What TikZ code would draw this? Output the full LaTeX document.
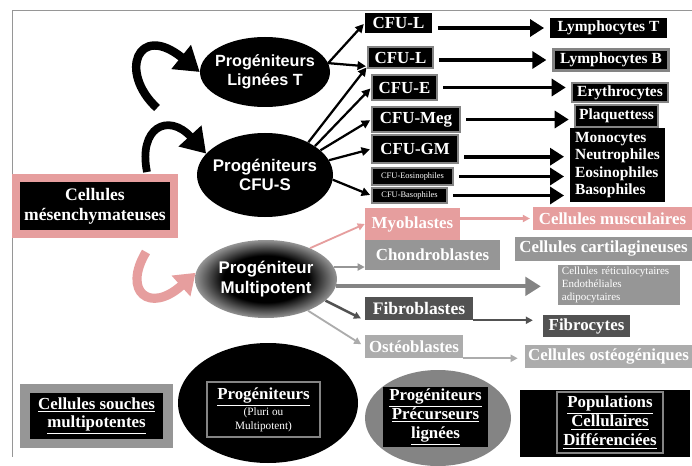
\documentclass[tikz,border=0pt]{standalone}
\usepackage{fontspec}
\setmainfont{Liberation Serif}
\setsansfont{Liberation Sans}
\usetikzlibrary{shapes.geometric,arrows.meta}

\definecolor{rose}{RGB}{230,158,158}
\definecolor{greymid}{RGB}{150,150,150}
\definecolor{greylight}{RGB}{172,172,172}
\definecolor{greydark}{RGB}{82,82,82}
\definecolor{greyrim}{RGB}{132,132,132}
\colorlet{mpedge}{black!42}

\pgfdeclareradialshading{mpball}{\pgfpoint{0bp}{0bp}}{color(0bp)=(black); color(15bp)=(black); color(25bp)=(mpedge); color(50bp)=(mpedge)}

\newcommand\fsz[2]{\fontsize{#1}{#2}\selectfont}

\tikzset{
  sz/.style 2 args={minimum width=#1*0.025cm, minimum height=#2*0.025cm},
  box/.style={rectangle, fill=black, text=white, inner sep=1pt, font=\bfseries\fsz{12}{13}},
  rim/.style={draw=greyrim, line width=0.9pt},
  blob/.style={ellipse, fill=black, inner sep=0pt},
  blobtxt/.style={text=white, align=center, inner sep=0pt, font=\sffamily\bfseries\fsz{12}{14}},
  link/.style={line width=1.6pt, -{Triangle[length=6pt,width=6pt]}, shorten >=1pt},
  fat/.style={line width=2.8pt, -{Triangle[length=10pt,width=12pt]}, shorten <=4pt, shorten >=4pt},
  swoop/.style={line width=6pt, -{Triangle[length=17pt,width=21pt]}},
  tipsmall/.style={-{Triangle[length=5pt,width=5pt]}},
}

\begin{document}
\begin{tikzpicture}[x=0.025cm,y=-0.025cm]
  \useasboundingbox (0,0) rectangle (692,466);
  \fill[white] (0,0) rectangle (692,466);

  %% frame
  \draw[greymid, line width=0.6pt] (692,10) -- (12,10) -- (12,457);

  %% progenitors (ellipses)
  \node[blob, sz={130}{70}] (ligt) at (265,72) {};
  \node[blobtxt, font=\sffamily\bfseries\fsz{11.5}{13.5}] (ligttxt) at (ligt) {Progéniteurs\\Lignées T};
  \node[blob, sz={136}{84}] (cfus) at (265,175) {};
  \node[blobtxt] (cfustxt) at (cfus) {Progéniteurs\\CFU-S};
  \node[ellipse, shading=mpball, inner sep=0pt, sz={142}{78}] (mp) at (266,279) {};
  \node[blobtxt] (mptxt) at (mp) {Progéniteur\\Multipotent};

  %% mesenchyme
  \node[box, draw=rose, line width=5.7pt, sz={158}{56}, align=center, font=\bfseries\fsz{12.5}{14}] (mes) at (95,206) {Cellules\\mésenchymateuses};

  %% CFU column
  \node[box, sz={67}{20}] (cful1) at (398.5,23) {CFU-L};
  \node[box, rim, sz={65}{21}] (cful2) at (400.5,57.5) {CFU-L};
  \node[box, rim, sz={65}{25}] (cfue) at (404.5,87.5) {CFU-E};
  \node[box, rim, sz={88}{25}] (cfumeg) at (416,119.5) {CFU-Meg};
  \node[box, rim, sz={86}{28}] (cfugm) at (415,149) {CFU-GM};
  \node[box, rim, sz={81}{17}, font=\fsz{6}{7}] (cfueo) at (412.5,176.5) {CFU-Eosinophiles};
  \node[box, rim, sz={75}{15}, font=\fsz{6}{7}] (cfubaso) at (409.5,195.5) {CFU-Basophiles};

  %% blood cells
  \node[box, sz={117}{20}, font=\bfseries\fsz{11}{12}] (lymt) at (608.5,28) {Lymphocytes T};
  \node[box, draw=greyrim, line width=2.1pt, sz={115}{21}, font=\bfseries\fsz{11}{12}] (lymb) at (611,60) {Lymphocytes B};
  \node[box, rim, sz={96}{19}, font=\bfseries\fsz{11}{12}] (ery) at (620,92.5) {Erythrocytes};
  \node[box, rim, sz={83}{22}, font=\bfseries\fsz{11}{12}] (plaq) at (616.5,116) {Plaquettess};
  \node[box, sz={95}{74}, align=left, font=\bfseries\fsz{11}{12.5}] (mono) at (617.5,165) {Monocytes\\Neutrophiles\\Eosinophiles\\Basophiles};

  %% mesenchymal lineages
  \node[box, fill=rose, sz={95}{32}] (myo) at (412.5,224) {Myoblastes};
  \node[box, fill=rose, sz={159}{23}] (musc) at (612.5,218.5) {Cellules musculaires};
  \node[box, fill=greymid, sz={135}{30}] (chondro) at (432.5,255) {Chondroblastes};
  \node[box, fill=greymid, sz={177}{24}] (cartil) at (603.5,249) {Cellules cartilagineuses};
  \node[box, fill=greymid, sz={122}{40}, align=left, text width=2.85cm, inner xsep=0.1cm, font=\fsz{7.8}{9}] (retic) at (619,285) {Cellules réticulocytaires\\Endothéliales\\adipocytaires};
  \node[box, fill=greydark, sz={108}{23}, font=\bfseries\fsz{12.5}{13}] (fibro) at (419,308.5) {Fibroblastes};
  \node[box, fill=greydark, sz={87}{22}] (fibrocyt) at (586.5,326) {Fibrocytes};
  \node[box, fill=greylight, sz={98}{23}] (osteo) at (414,346.5) {Ostéoblastes};
  \node[box, fill=greylight, sz={167}{23}] (osteog) at (608.5,356.5) {Cellules ostéogéniques};

  %% legend
  \node[box, draw=greymid, line width=7pt, sz={143}{55}, align=center] (souches) at (96.5,416) {\underline{Cellules souches}\\\underline{multipotentes}};
  \node[blob, sz={180}{120}] (pluri) at (268,403) {};
  \node[rim, text=white, sz={113}{55}, align=center, inner sep=1pt, font=\fsz{8}{10}] (pluritxt) at (263.5,409.5) {{\bfseries\fsz{12}{13}\underline{Progéniteurs}}\\(Pluri ou\\Multipotent)};
  \node[blob, fill=greyrim, sz={146}{96}] (prec) at (438,418) {};
  \node[box, sz={105}{60}, align=center, font=\bfseries\fsz{12}{13.5}] (prectxt) at (435.5,417) {\underline{Progéniteurs}\\\underline{Précurseurs}\\\underline{lignées}};
  \node[box, sz={170}{67}] (popfr) at (605,423.5) {};
  \node[rim, text=white, sz={106}{61}, align=center, inner sep=1pt, font=\bfseries\fsz{12}{13.5}] (pop) at (610,422.5) {\underline{Populations}\\\underline{Cellulaires}\\\underline{Différenciées}};

  %% self-renewal swoops
  \coordinate (tailT) at (157,108);
  \coordinate (tailS) at (147,172);
  \coordinate (tailM) at (146,252);
  \draw[swoop] (tailT) .. controls (118,72) and (138,22) .. (ligt.west);
  \draw[swoop, line width=5.5pt] (tailS) .. controls (138,128) and (168,112) .. (cfus.160);
  \draw[rose, line width=6.5pt, -{Triangle[length=14pt,width=19pt]}] (tailM) .. controls (122,292) and (150,314) .. (mp.175);

  %% lymphoid / myeloid links
  \draw[link] (ligt.8) -- (cful1.west);
  \draw[link] (ligt.8) -- (cful2.195);
  \foreach \a/\b in {37/cful2.195, 30/cfue.west, 24/cfumeg.west, 13/cfugm.west, -4/cfubaso.west}
    \draw[link] (cfus.\a) -- (\b);

  \draw[fat] (cful1.east |- lymt.west) -- (lymt.west);
  \draw[fat] (cful2.east |- lymb.west) -- (lymb.west);
  \draw[fat] (cfue.east) -- (cfue.east -| ery.west);
  \draw[fat] (cfumeg.east) -- (cfumeg.east -| plaq.west);
  \draw[fat] (cfugm.-10) -- (cfugm.-10 -| mono.west);
  \draw[fat] (cfueo.east) -- (cfueo.east -| mono.west);
  \draw[fat] (cfubaso.east) -- (cfubaso.east -| mono.west);

  %% mesenchymal links
  \draw[rose, line width=1.3pt, tipsmall] (mp.35) -- (myo.west);
  \draw[greymid, line width=1.3pt, tipsmall] (mp.10) -- (mp.10 -| chondro.west);
  \draw[greyrim, line width=3pt, -{Triangle[length=11pt,width=13pt]}, shorten >=12pt] (mp.-6) -- (mp.-6 -| retic.west);
  \draw[greydark, line width=1.8pt, tipsmall, shorten >=3pt] (mp.-20) -- (fibro.south west);
  \draw[greylight, line width=1.3pt, tipsmall, shorten >=3pt] (mp.-37) -- (osteo.west);

  \draw[rose, line width=1.5pt, tipsmall, shorten >=2pt] (musc.west -| myo.east) -- (musc.west);
  \draw[greydark, line width=1.3pt, tipsmall, shorten >=7pt] (fibro.south east) -- (fibro.south east -| fibrocyt.west);
  \draw[greylight, line width=1.3pt, tipsmall, shorten >=5pt] (osteo.south east) -- (osteo.south east -| osteog.west);

\end{tikzpicture}
\end{document}
